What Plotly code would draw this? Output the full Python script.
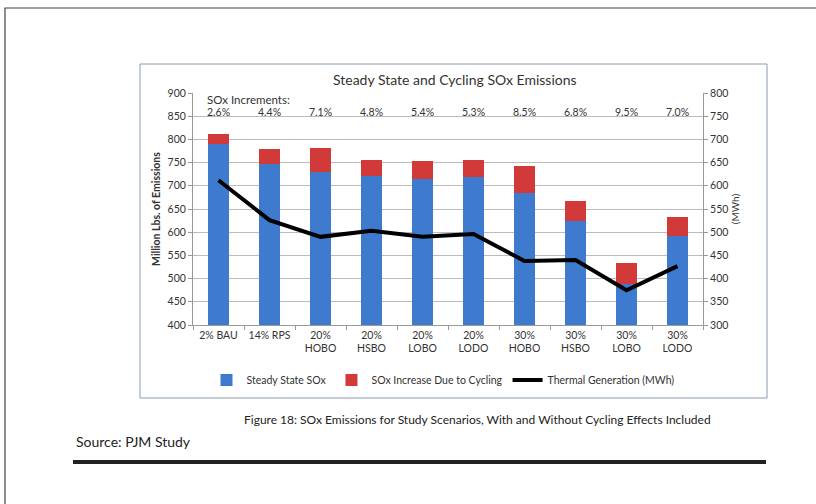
import plotly.graph_objects as go

# Scenario data
scenarios = ["2% BAU", "14% RPS", "20%<br>HOBO", "20%<br>HSBO", "20%<br>LOBO",
             "20%<br>LODO", "30%<br>HOBO", "30%<br>HSBO", "30%<br>LOBO", "30%<br>LODO"]
steady_sox = [790, 747, 729, 721, 714, 718, 685, 625, 488, 592]
cycling_sox = [21, 33, 52, 35, 39, 38, 58, 43, 46, 41]
thermal_gen = [612, 526, 490, 503, 490, 496, 438, 440, 375, 427]
increments = ["2.6%", "4.4%", "7.1%", "4.8%", "5.4%", "5.3%", "8.5%", "6.8%", "9.5%", "7.0%"]

W, H = 816, 504
ML, MR, MT, MB = 193, 113, 93, 179
PW, PH = W - ML - MR, H - MT - MB


def px(x):
    return (x - ML) / PW


def py(y):
    return 1 - (y - MT) / PH


FONT = "Lato"
TXT = "#333333"

fig = go.Figure()
fig.add_trace(go.Bar(x=scenarios, y=steady_sox, name="Steady State SOx",
                     marker=dict(color="#3E7BCF", line=dict(width=0)), width=0.4))
fig.add_trace(go.Bar(x=scenarios, y=cycling_sox, name="SOx Increase Due to Cycling",
                     marker=dict(color="#D23A3A", line=dict(width=0)), width=0.4))
fig.add_trace(go.Scatter(x=scenarios, y=thermal_gen, name="Thermal Generation (MWh)",
                         yaxis="y2", mode="lines", line=dict(color="black", width=4)))

annotations = []
for cat, inc in zip(scenarios, increments):
    annotations.append(dict(x=cat, y=859, xref="x", yref="y", text=inc, showarrow=False,
                            xanchor="center", yanchor="middle",
                            font=dict(size=10.5, color=TXT, family=FONT)))


def label(x, y, text, size, color=TXT, xanchor="center"):
    return dict(x=px(x), y=py(y), xref="paper", yref="paper", text=text, showarrow=False,
                xanchor=xanchor, yanchor="middle", font=dict(size=size, color=color, family=FONT))


annotations += [
    label(205, 99, "SOx Increments:", 11.5, xanchor="left"),
    label(455, 79, "Steady State and Cycling SOx Emissions", 14),
    label(477, 419, "Figure 18: SOx Emissions for Study Scenarios, With and Without Cycling Effects Included",
          12, color="#222222"),
    label(74, 441, "Source: PJM Study", 14, color="#222222", xanchor="left"),
]

shapes = [
    # page frame
    dict(type="rect", xref="paper", yref="paper", x0=px(5), x1=px(830), y0=py(8), y1=py(520),
         line=dict(color="#444444", width=1.2), layer="below"),
    # chart box
    dict(type="rect", xref="paper", yref="paper", x0=px(140), x1=px(767), y0=py(64), y1=py(398),
         line=dict(color="#8A9AB0", width=1), layer="below"),
    # rule under the source line
    dict(type="line", xref="paper", yref="paper", x0=px(73), x1=px(766), y0=py(462), y1=py(462),
         line=dict(color="#222222", width=4)),
]

fig.update_layout(
    width=W, height=H, barmode="stack", bargap=0.6,
    margin=dict(l=ML, r=MR, t=MT, b=MB, pad=0),
    paper_bgcolor="white", plot_bgcolor="white",
    font=dict(family=FONT, color=TXT, size=10.5),
    showlegend=True,
    legend=dict(orientation="h", x=px(443), xanchor="center", y=py(380), yanchor="middle",
                font=dict(size=10.5, color=TXT, family=FONT), traceorder="normal",
                itemwidth=30, tracegroupgap=0),
    xaxis=dict(showgrid=False, showline=True, linecolor="#999999", ticks="outside",
               tickson="boundaries", ticklen=4, tickcolor="#999999", tickangle=0,
               tickfont=dict(size=10.5, color=TXT)),
    yaxis=dict(range=[400, 900], dtick=50, showgrid=True, gridcolor="#BBBBBB",
               showline=True, linecolor="#999999", ticks="outside", ticklen=4, tickcolor="#999999",
               tickfont=dict(size=10.5, color=TXT),
               title=dict(text="<b>Million Lbs. of Emissions</b>", font=dict(size=10.5, color=TXT), standoff=4)),
    yaxis2=dict(range=[300, 800], dtick=50, overlaying="y", side="right", showgrid=False,
                showline=True, linecolor="#999999", ticks="outside", ticklen=4, tickcolor="#999999",
                tickfont=dict(size=10.5, color=TXT),
                title=dict(text="(MWh)", font=dict(size=10, color=TXT), standoff=4)),
    annotations=annotations,
    shapes=shapes,
)

fig.write_html("out.html")
